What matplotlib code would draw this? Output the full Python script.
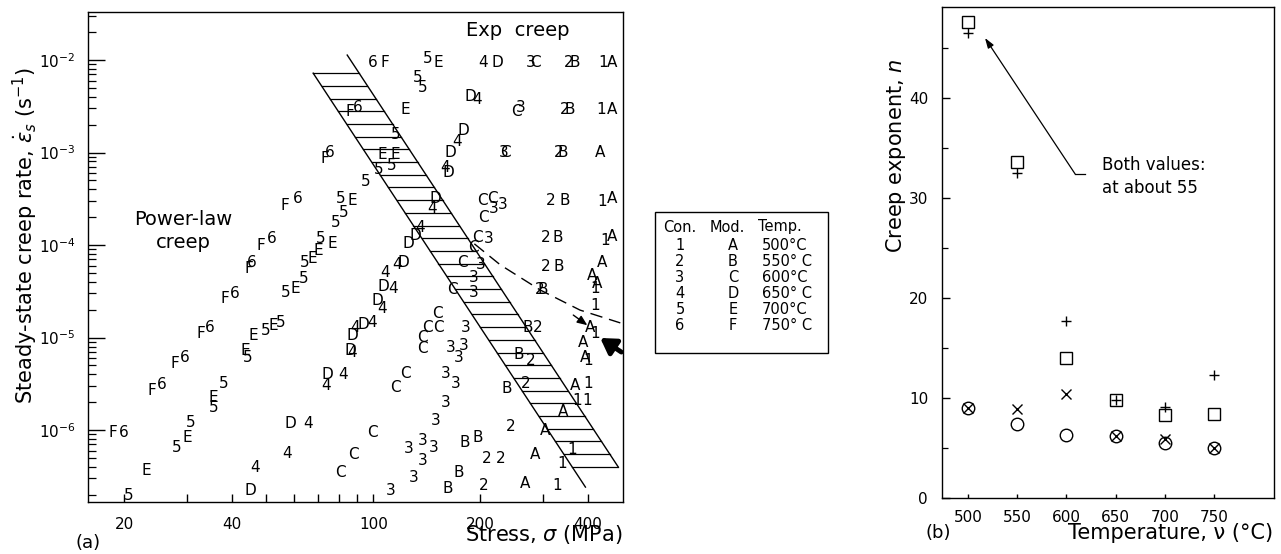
import numpy as np
import matplotlib
matplotlib.use('Agg')
from matplotlib import pyplot as plt
from matplotlib.patches import Rectangle
from matplotlib.ticker import LogLocator, NullFormatter, NullLocator

W, H = 1281, 554
plt.rcParams['font.family'] = 'DejaVu Sans'
plt.rcParams['mathtext.fontset'] = 'dejavusans'

# ---------------- panel (a): steady-state creep rate vs stress ----------------
# each temperature has a "Con." symbol (digit) and a "Mod." symbol (letter)
# stress in MPa, creep rate in 1/s

# 500 C  -> "1" / "A"
one_s = [442.7, 436.8, 439.7, 448.6, 420.7, 420.7, 420.7, 401.9, 401.9, 374.0, 399.3, 362.2, 339.6, 328.9]
one_r = [9.5e-3, 2.88e-3, 2.92e-4, 1.13e-4, 3.43e-5, 2.24e-5, 1.12e-5, 5.7e-6, 3.22e-6, 2.11e-6, 2.11e-6, 6.1e-7, 4.4e-7, 2.54e-7]
a_s = [469.2, 469.2, 434.0, 469.2, 469.2, 439.7, 412.1, 425.6, 407.4, 389.0, 394.5, 368.7, 342.1, 304.2, 285.0, 267.3]
a_r = [9.5e-3, 2.88e-3, 9.9e-4, 3.22e-4, 1.25e-4, 6.4e-5, 4.74e-5, 3.88e-5, 1.30e-5, 8.9e-6, 6.15e-6, 3.06e-6, 1.57e-6, 1.0e-6, 5.4e-7, 2.67e-7]

# 550 C  -> "2" / "B"
two_s = [353.3, 344.4, 331.3, 314.2, 304.2, 304.2, 294.3, 290.5, 276.1, 267.3, 242.7, 208.9, 227.5, 203.7]
two_r = [9.5e-3, 2.88e-3, 9.9e-4, 3.06e-4, 1.22e-4, 5.9e-5, 3.27e-5, 1.27e-5, 5.7e-6, 3.22e-6, 1.08e-6, 4.98e-7, 4.98e-7, 2.54e-7]
b_s = [368.7, 357.3, 339.6, 346.0, 328.9, 331.3, 298.5, 272.5, 255.5, 237.7, 181.3, 197.2, 173.3, 161.4]
b_r = [9.5e-3, 2.88e-3, 9.9e-4, 3.06e-4, 1.22e-4, 5.9e-5, 3.27e-5, 1.27e-5, 6.5e-6, 2.84e-6, 7.4e-7, 8.4e-7, 3.5e-7, 2.36e-7]

# 600 C  -> "3" / "C"
three_s = [276.1, 258.8, 231.8, 230.3, 217.4, 210.4, 199.9, 191.1, 191.1, 181.3, 164.5, 179.0, 173.3, 159.3,
           169.9, 159.3, 149.3, 138.1, 147.4, 125.4, 138.1, 129.5, 111.6]
three_r = [9.5e-3, 3.03e-3, 9.9e-4, 2.77e-4, 2.51e-4, 1.19e-4, 6.1e-5, 4.5e-5, 3.1e-5, 1.27e-5, 7.9e-6, 8.3e-6, 6.15e-6, 4.13e-6,
           3.22e-6, 2.01e-6, 1.28e-6, 7.8e-7, 6.5e-7, 6.4e-7, 4.7e-7, 3.1e-7, 2.24e-7]
c_s = [285.0, 252.5, 234.9, 202.4, 215.8, 203.7, 195.9, 191.1, 177.8, 166.7, 151.3, 141.8, 152.4, 137.4, 137.4,
       123.0, 115.3, 99.4, 87.9, 80.8]
c_r = [9.5e-3, 2.74e-3, 9.9e-4, 3.06e-4, 3.22e-4, 1.96e-4, 1.22e-4, 9.5e-5, 6.4e-5, 3.27e-5, 1.84e-5, 1.30e-5, 1.30e-5, 1.01e-5, 7.7e-6,
       4.13e-6, 2.92e-6, 9.5e-7, 5.4e-7, 3.5e-7]

# 650 C  -> "4" / "D"
four_s = [203.7, 195.9, 172.2, 159.3, 146.5, 135.5, 116.8, 108.1, 113.8, 106.0, 89.0, 99.4, 87.3, 82.4, 73.8, 65.6, 57.3, 46.7]
four_r = [9.5e-3, 3.70e-3, 1.30e-3, 6.97e-4, 2.51e-4, 1.53e-4, 6.1e-5, 5.1e-5, 3.43e-5, 2.08e-5, 1.27e-5, 1.47e-5, 6.97e-6,
          3.94e-6, 3.06e-6, 1.19e-6, 5.6e-7, 3.9e-7]
d_s = [222.9, 187.2, 179.0, 164.5, 162.5, 149.3, 131.2, 125.4, 121.4, 106.7, 102.6, 93.7, 87.3, 86.2, 74.3, 58.5, 45.1]
d_r = [9.5e-3, 3.98e-3, 1.75e-3, 9.9e-4, 6.15e-4, 3.22e-4, 1.28e-4, 1.05e-4, 6.4e-5, 3.52e-5, 2.54e-5, 1.40e-5, 1.04e-5,
       7.3e-6, 3.94e-6, 1.19e-6, 2.24e-7]

# 700 C  -> "5" / "E"
five_s = [141.8, 133.7, 137.4, 115.3, 113.0, 103.3, 95.0, 80.8, 82.4, 78.2, 71.0, 64.0, 63.6, 56.6, 49.8, 54.8,
          44.3, 37.9, 35.6, 30.6, 28.1, 20.5]
five_r = [1.05e-2, 6.5e-3, 5.1e-3, 1.55e-3, 7.3e-4, 6.5e-4, 4.8e-4, 3.2e-4, 2.22e-4, 1.77e-4, 1.19e-4, 6.5e-5, 4.4e-5, 3.1e-5,
          1.2e-5, 1.44e-5, 6.15e-6, 3.2e-6, 1.77e-6, 1.22e-6, 6.5e-7, 1.98e-7]
e_s = [152.4, 123.0, 106.0, 115.3, 87.3, 76.7, 67.4, 70.1, 60.4, 46.0, 52.4, 43.7, 35.6, 30.1, 23.0]
e_r = [9.5e-3, 2.88e-3, 9.4e-4, 9.4e-4, 3.06e-4, 1.05e-4, 7.2e-5, 8.8e-5, 3.43e-5, 1.06e-5, 1.36e-5, 7.3e-6, 2.27e-6, 8.4e-7, 3.7e-7]

# 750 C  -> "6" / "F"
six_s = [99.4, 90.7, 75.7, 61.2, 52.0, 45.7, 40.9, 34.8, 29.6, 25.5, 19.9]
six_r = [9.5e-3, 3.1e-3, 1.01e-3, 3.22e-4, 1.19e-4, 6.5e-5, 3.03e-5, 1.30e-5, 6.15e-6, 3.14e-6, 9.3e-7]
f_s = [108.0, 86.1, 73.3, 56.6, 48.2, 44.6, 38.4, 32.7, 27.8, 23.9, 18.6]
f_r = [9.5e-3, 2.74e-3, 8.7e-4, 2.70e-4, 1.0e-4, 5.6e-5, 2.67e-5, 1.12e-5, 5.3e-6, 2.70e-6, 9.3e-7]

# hatched transition band (stress, rate) at the ends of its two edges
band_left = [(67.8, 7.2e-3), (394.5, 2.42e-7)]
band_right = [(84.5, 1.13e-2), (487.6, 4.0e-7)]
band_rate_top, band_rate_bottom = 7.2e-3, 4.0e-7
n_hatch = 32

# dashed curve and arrows
dash_s = [192.3, 227.5, 294.3, 381.0, 494.3]
dash_r = [1.03e-4, 6.1e-5, 3.27e-5, 1.98e-5, 1.44e-5]
small_arrow = [(364.7, 1.75e-5), (399.3, 1.36e-5)]
big_arrow = [(497.6, 6.97e-6), (434.0, 9.9e-6)]

stress_ticks = [20, 30, 40, 50, 60, 70, 80, 90, 100, 200, 300, 400]
stress_ticklabels = ['20', '', '40', '', '', '', '', '', '100', '200', '', '400']

# ---------------- panel (b): creep exponent vs temperature ----------------
temps = [500, 550, 600, 650, 700, 750]
n_square = [47.6, 33.6, 14.0, 9.8, 8.3, 8.4]
n_plus = [46.5, 32.5, 17.7, 9.8, 9.1, 12.3]
n_cross = [9.0, 8.9, 10.4, 6.2, 5.9, 5.0]
n_circle = [9.0, 7.4, 6.3, 6.2, 5.5, 5.0]
note_path = [(619.0, 32.4), (608.9, 32.4), (517.3, 46.0)]

# legend table
con_ids = ['1', '2', '3', '4', '5', '6']
mod_ids = ['A', 'B', 'C', 'D', 'E', 'F']
temp_labels = ['500°C', '550° C', '600°C', '650° C', '700°C', '750° C']


def fx(x):
    return x / W


def fy(y):
    return 1 - y / H


fig = plt.figure(figsize=(W / 100, H / 100), dpi=100)

# ---- panel (a)
ax = fig.add_axes([fx(88), fy(502), (623 - 88) / W, (502 - 12) / H])
ax.set_xscale('log')
ax.set_yscale('log')
ax.set_xlim(15.8, 503)
ax.set_ylim(1.67e-7, 3.3e-2)

symbols = [
    ('1', one_s, one_r), ('A', a_s, a_r),
    ('2', two_s, two_r), ('B', b_s, b_r),
    ('3', three_s, three_r), ('C', c_s, c_r),
    ('4', four_s, four_r), ('D', d_s, d_r),
    ('5', five_s, five_r), ('E', e_s, e_r),
    ('6', six_s, six_r), ('F', f_s, f_r),
]
for ch, xs, ys in symbols:
    for x, y in zip(xs, ys):
        ax.text(x, y, ch, ha='center', va='center', fontsize=11)


def edge_x(edge, r):
    (s1, r1), (s2, r2) = edge
    t = (np.log10(r) - np.log10(r1)) / (np.log10(r2) - np.log10(r1))
    return 10 ** (np.log10(s1) + t * (np.log10(s2) - np.log10(s1)))


for edge in (band_left, band_right):
    ax.plot([edge[0][0], edge[1][0]], [edge[0][1], edge[1][1]], color='k', lw=1)
for r in np.logspace(np.log10(band_rate_top), np.log10(band_rate_bottom), n_hatch):
    ax.plot([edge_x(band_left, r), edge_x(band_right, r)], [r, r], color='k', lw=0.9)

ax.plot(dash_s, dash_r, color='k', lw=1, dashes=(9, 5))
ax.annotate('', xy=small_arrow[1], xytext=small_arrow[0],
            arrowprops=dict(arrowstyle='-|>,head_length=0.6,head_width=0.25', color='k', lw=1,
                            shrinkA=0, shrinkB=0))
ax.annotate('', xy=big_arrow[1], xytext=big_arrow[0], annotation_clip=False,
            arrowprops=dict(arrowstyle='-|>,head_length=0.9,head_width=0.55', color='k', lw=3.5,
                            shrinkA=0, shrinkB=0))

ax.text(0.804, 0.963, 'Exp  creep', transform=ax.transAxes, ha='center', va='center', fontsize=14)
ax.text(0.178, 0.553, 'Power-law\ncreep', transform=ax.transAxes, ha='center', va='center',
        fontsize=14, linespacing=1.3)

ax.yaxis.set_major_locator(LogLocator(base=10, numticks=12))
ax.yaxis.set_minor_locator(LogLocator(base=10, subs=np.arange(2, 10), numticks=40))
ax.yaxis.set_minor_formatter(NullFormatter())
ax.set_xticks(stress_ticks, stress_ticklabels)
ax.xaxis.set_minor_locator(NullLocator())
ax.tick_params(axis='y', which='major', direction='in', length=12, width=1, labelsize=11, pad=9)
ax.tick_params(axis='y', which='minor', direction='in', length=6, width=0.9)
ax.tick_params(axis='x', which='major', direction='in', length=6, width=1, labelsize=11, pad=11)
for sp in ax.spines.values():
    sp.set_linewidth(1)

fig.text(fx(25), fy(235), r'Steady-state creep rate, $\dot{\varepsilon}_s$ (s$^{-1}$)',
         rotation=90, ha='center', va='center', fontsize=15)
fig.text(fx(623), fy(535), r'Stress, $\sigma$ (MPa)', ha='right', va='center', fontsize=15)
fig.text(fx(88), fy(543), '(a)', ha='center', va='center', fontsize=13)

# ---- legend table
fig.add_artist(Rectangle((fx(655), fy(353)), (828 - 655) / W, (353 - 212) / H,
                         transform=fig.transFigure, fill=False, lw=1, color='k'))
fig.text(fx(663), fy(227), 'Con.', ha='left', va='center', fontsize=10.5)
fig.text(fx(710), fy(227), 'Mod.', ha='left', va='center', fontsize=10.5)
fig.text(fx(758), fy(227), 'Temp.', ha='left', va='center', fontsize=10.5)
for i, (c, m, t) in enumerate(zip(con_ids, mod_ids, temp_labels)):
    yy = 245 + i * 16.2
    fig.text(fx(680), fy(yy), c, ha='center', va='center', fontsize=10.5)
    fig.text(fx(733), fy(yy), m, ha='center', va='center', fontsize=10.5)
    fig.text(fx(762), fy(yy), t, ha='left', va='center', fontsize=10.5)

# ---- panel (b)
bx = fig.add_axes([fx(942), fy(498), (1274 - 942) / W, (498 - 7) / H])
bx.plot(temps, n_square, ls='none', marker='s', ms=9, mfc='none', mec='k', mew=1)
bx.plot(temps, n_plus, ls='none', marker='+', ms=7.5, mec='k', mew=1)
bx.plot(temps, n_cross, ls='none', marker='x', ms=6.5, mec='k', mew=1)
bx.plot(temps, n_circle, ls='none', marker='o', ms=9, mfc='none', mec='k', mew=1)
bx.plot([p[0] for p in note_path[:2]], [p[1] for p in note_path[:2]], color='k', lw=0.9)
bx.annotate('', xy=note_path[2], xytext=note_path[1],
            arrowprops=dict(arrowstyle='-|>,head_length=0.6,head_width=0.2', color='k', lw=0.9,
                            shrinkA=0, shrinkB=0))
bx.text(636, 32.15, 'Both values:\nat about 55', ha='left', va='center', fontsize=12, linespacing=1.35)

bx.set_xlim(473.6, 811)
bx.set_ylim(0, 49.1)
bx.set_xticks(temps)
bx.set_yticks([0, 10, 20, 30, 40])
bx.set_yticks([5, 15, 25, 35, 45], minor=True)
bx.tick_params(axis='y', which='major', direction='in', length=6, width=1, labelsize=11, pad=10)
bx.tick_params(axis='y', which='minor', direction='in', length=4, width=0.9)
bx.tick_params(axis='x', which='major', direction='in', length=3, width=1, labelsize=11, pad=9)
for sp in bx.spines.values():
    sp.set_linewidth(1)

fig.text(fx(896), fy(156), r'Creep exponent, $n$', rotation=90, ha='center', va='center', fontsize=15)
fig.text(fx(1273), fy(533), 'Temperature, ν (°C)', ha='right', va='center', fontsize=15)
fig.text(fx(938), fy(533), '(b)', ha='center', va='center', fontsize=13)

fig.savefig('out.png', dpi=100)
